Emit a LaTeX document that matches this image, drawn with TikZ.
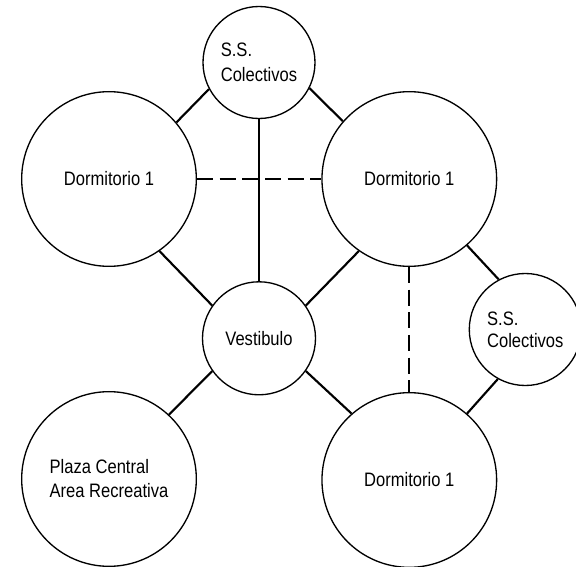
\documentclass[tikz,border=0pt]{standalone}
\usepackage{fontspec}
\setmainfont{Liberation Sans}[FakeStretch=0.85]
\begin{document}
\begin{tikzpicture}[x=0.75pt,y=-0.75pt,
  room/.style={circle,draw,line width=1pt,inner sep=0pt,
    font=\fontsize{14.6pt}{18.75pt}\selectfont},
  bigroom/.style={room,minimum size=131pt},
  smallroom/.style={room,minimum size=84pt},
  link/.style={line width=1.6pt},
  dlink/.style={link,dash pattern=on 12pt off 5pt}]
\fill[white] (0,0) rectangle (576,567);
\clip (0,0) rectangle (576,567);
\useasboundingbox (0,0) rectangle (576,567);

\node[smallroom,align=left] (ss1) at (259,62.5) {S.S.\\Colectivos};
\node[bigroom] (ld) at (109,179) {Dormitorio 1};
\node[bigroom] (rd) at (409.3,179) {Dormitorio 1};
\node[smallroom,minimum size=84.75pt] (v) at (259,338.3) {Vestibulo};
\node[smallroom,align=left,font=\fontsize{14.6pt}{16.7pt}\selectfont] (ss2) at (525.3,329.5) {S.S.\\Colectivos};
\node[bigroom,align=left,font=\fontsize{14.6pt}{18pt}\selectfont] (pz) at (109,479) {Plaza Central\\ Area Recreativa};
\node[bigroom] (bd) at (409.3,480) {Dormitorio 1};

\draw[link] (ld.40.4) -- (ss1.208.7);
\draw[link] (ss1.-27.9) -- (rd.139.3);
\draw[link] (ss1.south) -- (v.north);
\draw[link] (ld.-55.9) -- (v.145);
\draw[dlink] (ld.east) -- (rd.west);
\draw[link] (rd.235.5) -- (v.35.5);
\draw[link] (rd.-49.3) -- (ss2.118.1);
\draw[dlink] (rd.south) -- (bd.north);
\draw[link] (v.215.8) -- (pz.47);
\draw[link] (v.-35.2) -- (bd.131.9);
\draw[link] (ss2.241.9) -- (bd.49.8);
\end{tikzpicture}
\end{document}
